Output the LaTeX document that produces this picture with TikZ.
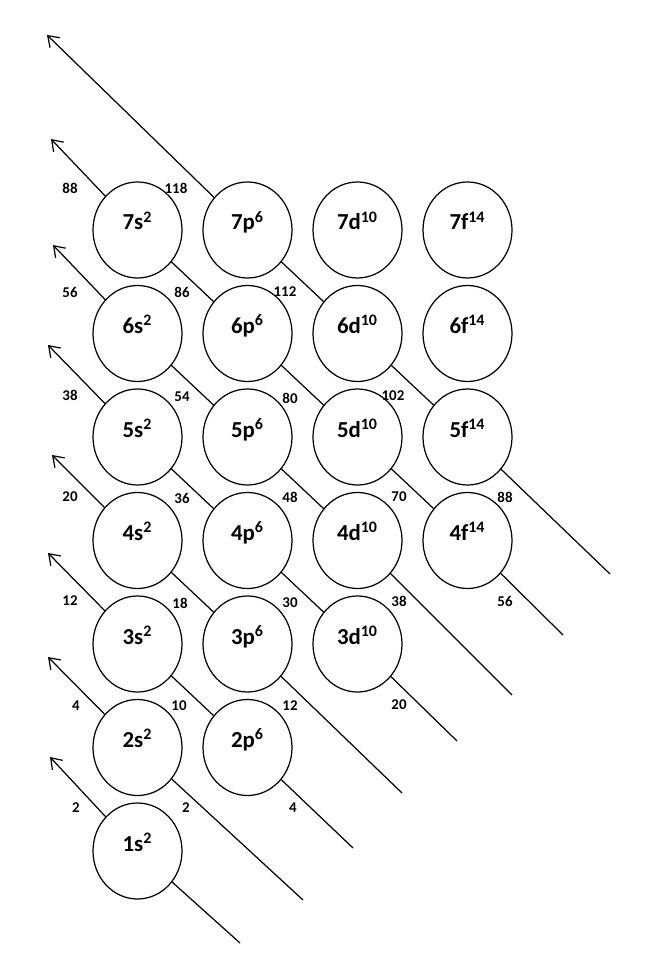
\documentclass[tikz,border=0pt]{standalone}
\usepackage{fontspec}
\setmainfont{Carlito}
\usetikzlibrary{shapes.geometric, arrows.meta, positioning, backgrounds}

\begin{document}
\begin{tikzpicture}[
    node distance=2.07cm and 2.2cm,
    on grid,
    orb/.style={ellipse, draw, fill=white, line width=0.7pt,
                minimum width=1.78cm, minimum height=1.92cm, inner sep=0pt,
                text height=0.4cm, text depth=0.4cm,
                font=\fontsize{13}{15}\selectfont\bfseries},
    num/.style={font=\fontsize{8.5}{10}\selectfont\bfseries, inner sep=1pt},
    arr/.style={-{Straight Barb[length=2mm, width=2.8mm]}, line width=0.7pt}
]
    \useasboundingbox (0,0) rectangle (12.92,-19.46);

    % s column
    \node[orb]               (s1) at (2.75,-17.02) {1s\textsuperscript{2}};
    \node[orb, above=of s1]  (s2) {2s\textsuperscript{2}};
    \node[orb, above=of s2]  (s3) {3s\textsuperscript{2}};
    \node[orb, above=of s3]  (s4) {4s\textsuperscript{2}};
    \node[orb, above=of s4]  (s5) {5s\textsuperscript{2}};
    \node[orb, above=of s5]  (s6) {6s\textsuperscript{2}};
    \node[orb, above=of s6]  (s7) {7s\textsuperscript{2}};
    % p column
    \node[orb, right=of s2]  (p2) {2p\textsuperscript{6}};
    \node[orb, above=of p2]  (p3) {3p\textsuperscript{6}};
    \node[orb, above=of p3]  (p4) {4p\textsuperscript{6}};
    \node[orb, above=of p4]  (p5) {5p\textsuperscript{6}};
    \node[orb, above=of p5]  (p6) {6p\textsuperscript{6}};
    \node[orb, above=of p6]  (p7) {7p\textsuperscript{6}};
    % d column
    \node[orb, right=of p3]  (d3) {3d\textsuperscript{10}};
    \node[orb, above=of d3]  (d4) {4d\textsuperscript{10}};
    \node[orb, above=of d4]  (d5) {5d\textsuperscript{10}};
    \node[orb, above=of d5]  (d6) {6d\textsuperscript{10}};
    \node[orb, above=of d6]  (d7) {7d\textsuperscript{10}};
    % f column
    \node[orb, right=of d4]  (f4) {4f\textsuperscript{14}};
    \node[orb, above=of f4]  (f5) {5f\textsuperscript{14}};
    \node[orb, above=of f5]  (f6) {6f\textsuperscript{14}};
    \node[orb, above=of f6]  (f7) {7f\textsuperscript{14}};

    % free ends of the diagonals
    \coordinate (e1) at (4.80,-18.86);  \coordinate (t1) at (1.00,-15.14);
    \coordinate (e2) at (6.06,-18.00);  \coordinate (t2) at (0.96,-13.14);
    \coordinate (e3) at (7.06,-16.96);  \coordinate (t3) at (0.96,-11.06);
    \coordinate (e4) at (8.04,-15.86);  \coordinate (t4) at (1.04,-9.10);
    \coordinate (e5) at (9.14,-14.82);  \coordinate (t5) at (0.96,-6.90);
    \coordinate (e6) at (10.24,-13.90); \coordinate (t6) at (1.06,-4.90);
    \coordinate (e7) at (11.26,-12.70); \coordinate (t7) at (1.02,-2.78);
    \coordinate (e8) at (12.20,-11.48); \coordinate (t8) at (0.94,-0.70);

    \begin{scope}[on background layer]
        \draw[arr] (e1) -- (s1) -- (t1);
        \draw[arr] (e2) -- (s2) -- (t2);
        \draw[arr] (e3) -- (p2) -- (s3) -- (t3);
        \draw[arr] (e4) -- (p3) -- (s4) -- (t4);
        \draw[arr] (e5) -- (d3) -- (p4) -- (s5) -- (t5);
        \draw[arr] (e6) -- (d4) -- (p5) -- (s6) -- (t6);
        \draw[arr] (e7) -- (f4) -- (d5) -- (p6) -- (s7) -- (t7);
        \draw[arr] (e8) -- (f5) -- (d6) -- (p7) -- (t8);
    \end{scope}

    % running electron counts
    \node[num] (ln7) at (1.40,-3.76)  {88};
    \node[num] (ln6) at (1.40,-5.84)  {56};
    \node[num] (ln5) at (1.40,-7.90)  {38};
    \node[num] (ln4) at (1.40,-9.94)  {20};
    \node[num] (ln3) at (1.40,-12.02) {12};
    \node[num] (ln2) at (1.52,-14.12) {4};
    \node[num] (ln1) at (1.52,-16.16) {2};
    \node[num] (ns7) at (3.52,-3.76)  {118};
    \node[num] (ns6) at (3.64,-5.84)  {86};
    \node[num] (ns5) at (3.64,-7.94)  {54};
    \node[num] (ns4) at (3.64,-9.96)  {36};
    \node[num] (ns3) at (3.60,-12.06) {18};
    \node[num] (ns2) at (3.58,-14.12) {10};
    \node[num] (ns1) at (3.72,-16.16) {2};
    \node[num] (np6) at (5.70,-5.84)  {112};
    \node[num] (np5) at (5.80,-7.96)  {80};
    \node[num] (np4) at (5.80,-9.94)  {48};
    \node[num] (np3) at (5.80,-12.06) {30};
    \node[num] (np2) at (5.80,-14.12) {12};
    \node[num] (np1) at (5.86,-16.16) {4};
    \node[num] (nd5) at (7.86,-7.92)  {102};
    \node[num] (nd4) at (7.98,-9.94)  {70};
    \node[num] (nd3) at (7.98,-12.02) {38};
    \node[num] (nd2) at (7.98,-14.10) {20};
    \node[num] (nf4) at (10.10,-9.94) {88};
    \node[num] (nf3) at (10.10,-12.02){56};
\end{tikzpicture}
\end{document}
